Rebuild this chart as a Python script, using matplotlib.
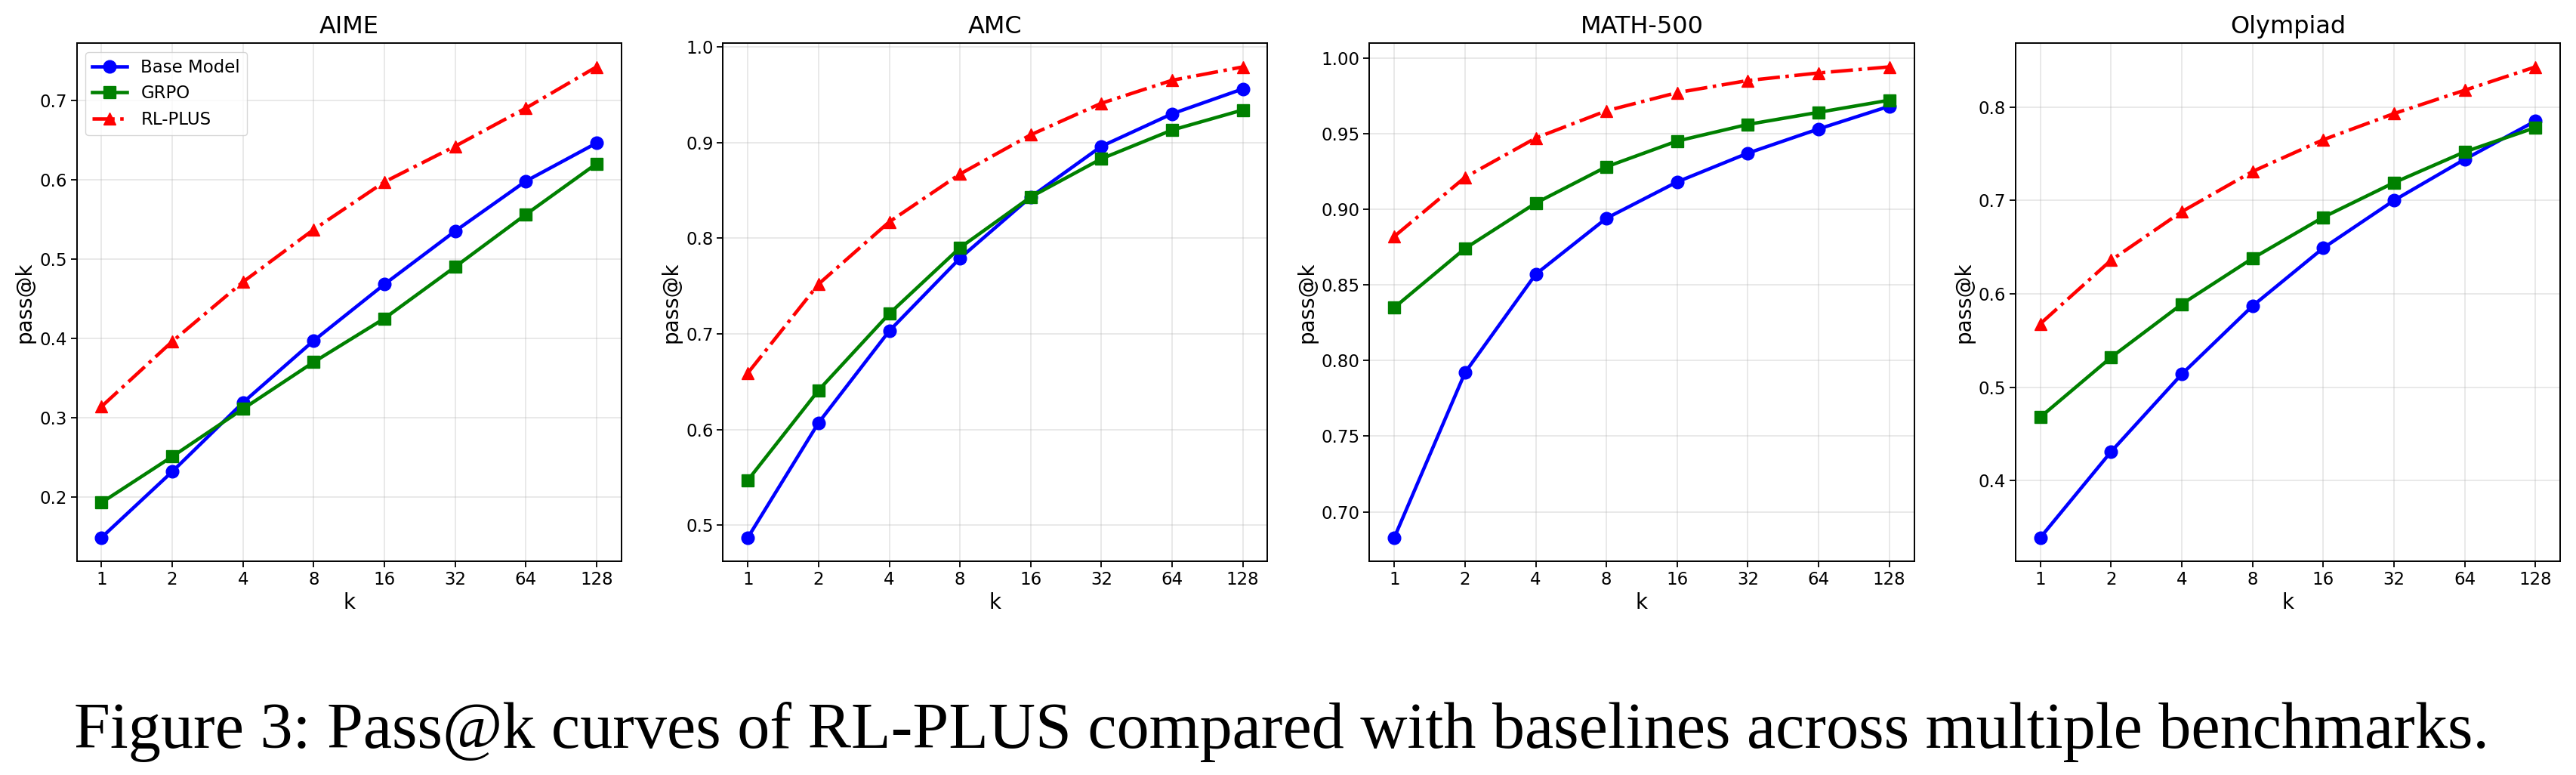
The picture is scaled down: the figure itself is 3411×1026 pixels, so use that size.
import matplotlib.pyplot as plt
import numpy as np

k_values = [1, 2, 4, 8, 16, 32, 64, 128]
benchmarks = ['AIME', 'AMC', 'MATH-500', 'Olympiad']

# pass@k for each benchmark
base_model = {
    'AIME': [0.149, 0.232, 0.319, 0.397, 0.468, 0.535, 0.598, 0.646],
    'AMC': [0.487, 0.607, 0.703, 0.779, 0.843, 0.896, 0.930, 0.956],
    'MATH-500': [0.683, 0.792, 0.857, 0.894, 0.918, 0.937, 0.953, 0.968],
    'Olympiad': [0.339, 0.431, 0.514, 0.587, 0.649, 0.700, 0.744, 0.785],
}
grpo = {
    'AIME': [0.193, 0.251, 0.311, 0.370, 0.425, 0.490, 0.556, 0.620],
    'AMC': [0.547, 0.641, 0.721, 0.790, 0.843, 0.883, 0.913, 0.934],
    'MATH-500': [0.835, 0.874, 0.904, 0.928, 0.945, 0.956, 0.964, 0.972],
    'Olympiad': [0.468, 0.532, 0.589, 0.638, 0.682, 0.719, 0.752, 0.778],
}
rl_plus = {
    'AIME': [0.314, 0.396, 0.471, 0.537, 0.597, 0.642, 0.690, 0.742],
    'AMC': [0.659, 0.752, 0.817, 0.867, 0.908, 0.941, 0.965, 0.979],
    'MATH-500': [0.882, 0.921, 0.947, 0.965, 0.977, 0.985, 0.990, 0.994],
    'Olympiad': [0.568, 0.636, 0.688, 0.731, 0.765, 0.793, 0.818, 0.843],
}

W, H = 3412, 1026
fig = plt.figure(figsize=(W / 100, H / 100), dpi=100)

# pixel layout of the four panels
lefts = [101.6, 957.5, 1813.5, 2669]
ax_w, ax_top, ax_bot = 721, 57.4, 742.8

for name, left in zip(benchmarks, lefts):
    ax = fig.add_axes([left / W, 1 - ax_bot / H, ax_w / W, (ax_bot - ax_top) / H])
    ax.plot(k_values, base_model[name], 'o-', color='blue', lw=3.3, ms=12, label='Base Model')
    ax.plot(k_values, grpo[name], 's-', color='green', lw=3.3, ms=12, label='GRPO')
    ax.plot(k_values, rl_plus[name], '^-.', color='red', lw=3.3, ms=12, label='RL-PLUS')
    ax.set_xscale('log', base=2)
    ax.set_xticks(k_values, [str(v) for v in k_values])
    ax.minorticks_off()
    ax.tick_params(labelsize=16.5, width=1.3, length=5.7)
    ax.grid(True, alpha=0.3, lw=1.3)
    ax.set_title(name, fontsize=23, pad=10)
    ax.set_xlabel('k', fontsize=20)
    ax.set_ylabel('pass@k', fontsize=20)
    for s in ax.spines.values():
        s.set_linewidth(1.4)
    if name == 'AIME':
        ax.legend(loc='upper left', fontsize=16.5)

fig.text(1697 / W, 1 - 990 / H,
         'Figure 3: Pass@k curves of RL-PLUS compared with baselines across multiple benchmarks.',
         ha='center', va='baseline', fontsize=62, family='Liberation Serif')

fig.savefig('out.png', dpi=100)
